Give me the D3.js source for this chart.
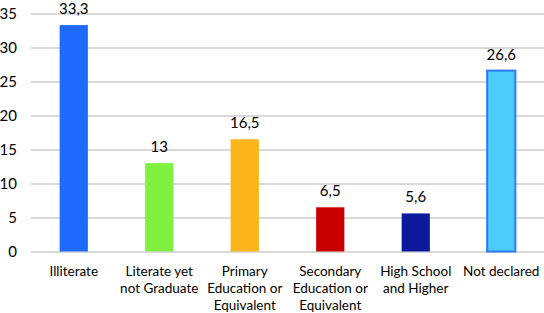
<!DOCTYPE html>
<html>
<head>
<meta charset="utf-8">
<script src="https://cdn.jsdelivr.net/npm/d3@7"></script>
<style>
  body { margin: 0; background: #fff; }
  text { font-family: Lato, "Open Sans", sans-serif; fill: #000; }
</style>
</head>
<body>
<div id="chart"></div>
<script>
var categories = [
  ["Illiterate"],
  ["Literate yet", "not Graduate"],
  ["Primary", "Education or", "Equivalent"],
  ["Secondary", "Education or", "Equivalent"],
  ["High School", "and Higher"],
  ["Not declared"]
]
var values = [33.3, 13, 16.5, 6.5, 5.6, 26.6]
var valueLabels = ["33,3", "13", "16,5", "6,5", "5,6", "26,6"]
var barColors = ["#1F6BFF", "#80F040", "#FBB419", "#C80000", "#0A1A9C", "#4BCBF7"]
var barStrokes = ["none", "none", "none", "none", "none", "#2A7BFF"]
var yTicks = [0, 5, 10, 15, 20, 25, 30, 35]

var dimensions = {
  width: 544,
  height: 313,
  margin: { top: 13.5, right: 0, bottom: 61.5, left: 31 }
}
dimensions.boundedWidth = dimensions.width - dimensions.margin.left - dimensions.margin.right
dimensions.boundedHeight = dimensions.height - dimensions.margin.top - dimensions.margin.bottom

var wrapper = d3.select("#chart").append("svg")
  .attr("width", dimensions.width)
  .attr("height", dimensions.height)

var bounds = wrapper.append("g")
  .attr("transform", `translate(${dimensions.margin.left},${dimensions.margin.top})`)

var xScale = d3.scaleBand()
  .domain(d3.range(values.length))
  .range([0, dimensions.boundedWidth])
  .paddingInner(0.67)
  .paddingOuter(0.335)

var yScale = d3.scaleLinear()
  .domain([0, 35])
  .range([dimensions.boundedHeight, 0])

// gridlines
var yAxisGenerator = d3.axisLeft(yScale)
  .tickValues(yTicks)
  .tickSize(-dimensions.boundedWidth)
  .tickPadding(12)

bounds.append("g")
  .call(yAxisGenerator)
  .call(g => g.select(".domain").remove())
  .call(g => g.selectAll(".tick line").attr("stroke", "#cccccc").attr("stroke-width", 1.5))
  .call(g => g.selectAll(".tick text")
    .attr("x", -14)
    .style("font-size", "15px")
    .style("font-family", "Lato, 'Open Sans', sans-serif")
    .attr("fill", "#000"))

bounds.selectAll(".bar")
  .data(values).enter()
  .append("rect")
  .attr("class", "bar")
  .attr("x", (d, i) => xScale(i))
  .attr("y", d => yScale(d))
  .attr("width", xScale.bandwidth())
  .attr("height", d => yScale(0) - yScale(d))
  .attr("fill", (d, i) => barColors[i])
  .attr("stroke", (d, i) => barStrokes[i])
  .attr("stroke-width", 2)

bounds.selectAll(".value")
  .data(values).enter()
  .append("text")
  .attr("class", "value")
  .attr("x", (d, i) => xScale(i) + xScale.bandwidth() / 2)
  .attr("y", d => yScale(d) - 11)
  .attr("text-anchor", "middle")
  .style("font-size", "15px")
  .text((d, i) => valueLabels[i])

var labels = bounds.selectAll(".cat")
  .data(categories).enter()
  .append("text")
  .attr("class", "cat")
  .attr("text-anchor", "middle")
  .attr("transform", (d, i) => `translate(${xScale(i) + xScale.bandwidth() / 2},${dimensions.boundedHeight + 24})`)
  .style("font-size", "13.5px")

labels.selectAll("tspan")
  .data(d => d).enter()
  .append("tspan")
  .attr("x", 0)
  .attr("y", (d, i) => i * 17)
  .text(d => d)
</script>
</body>
</html>
